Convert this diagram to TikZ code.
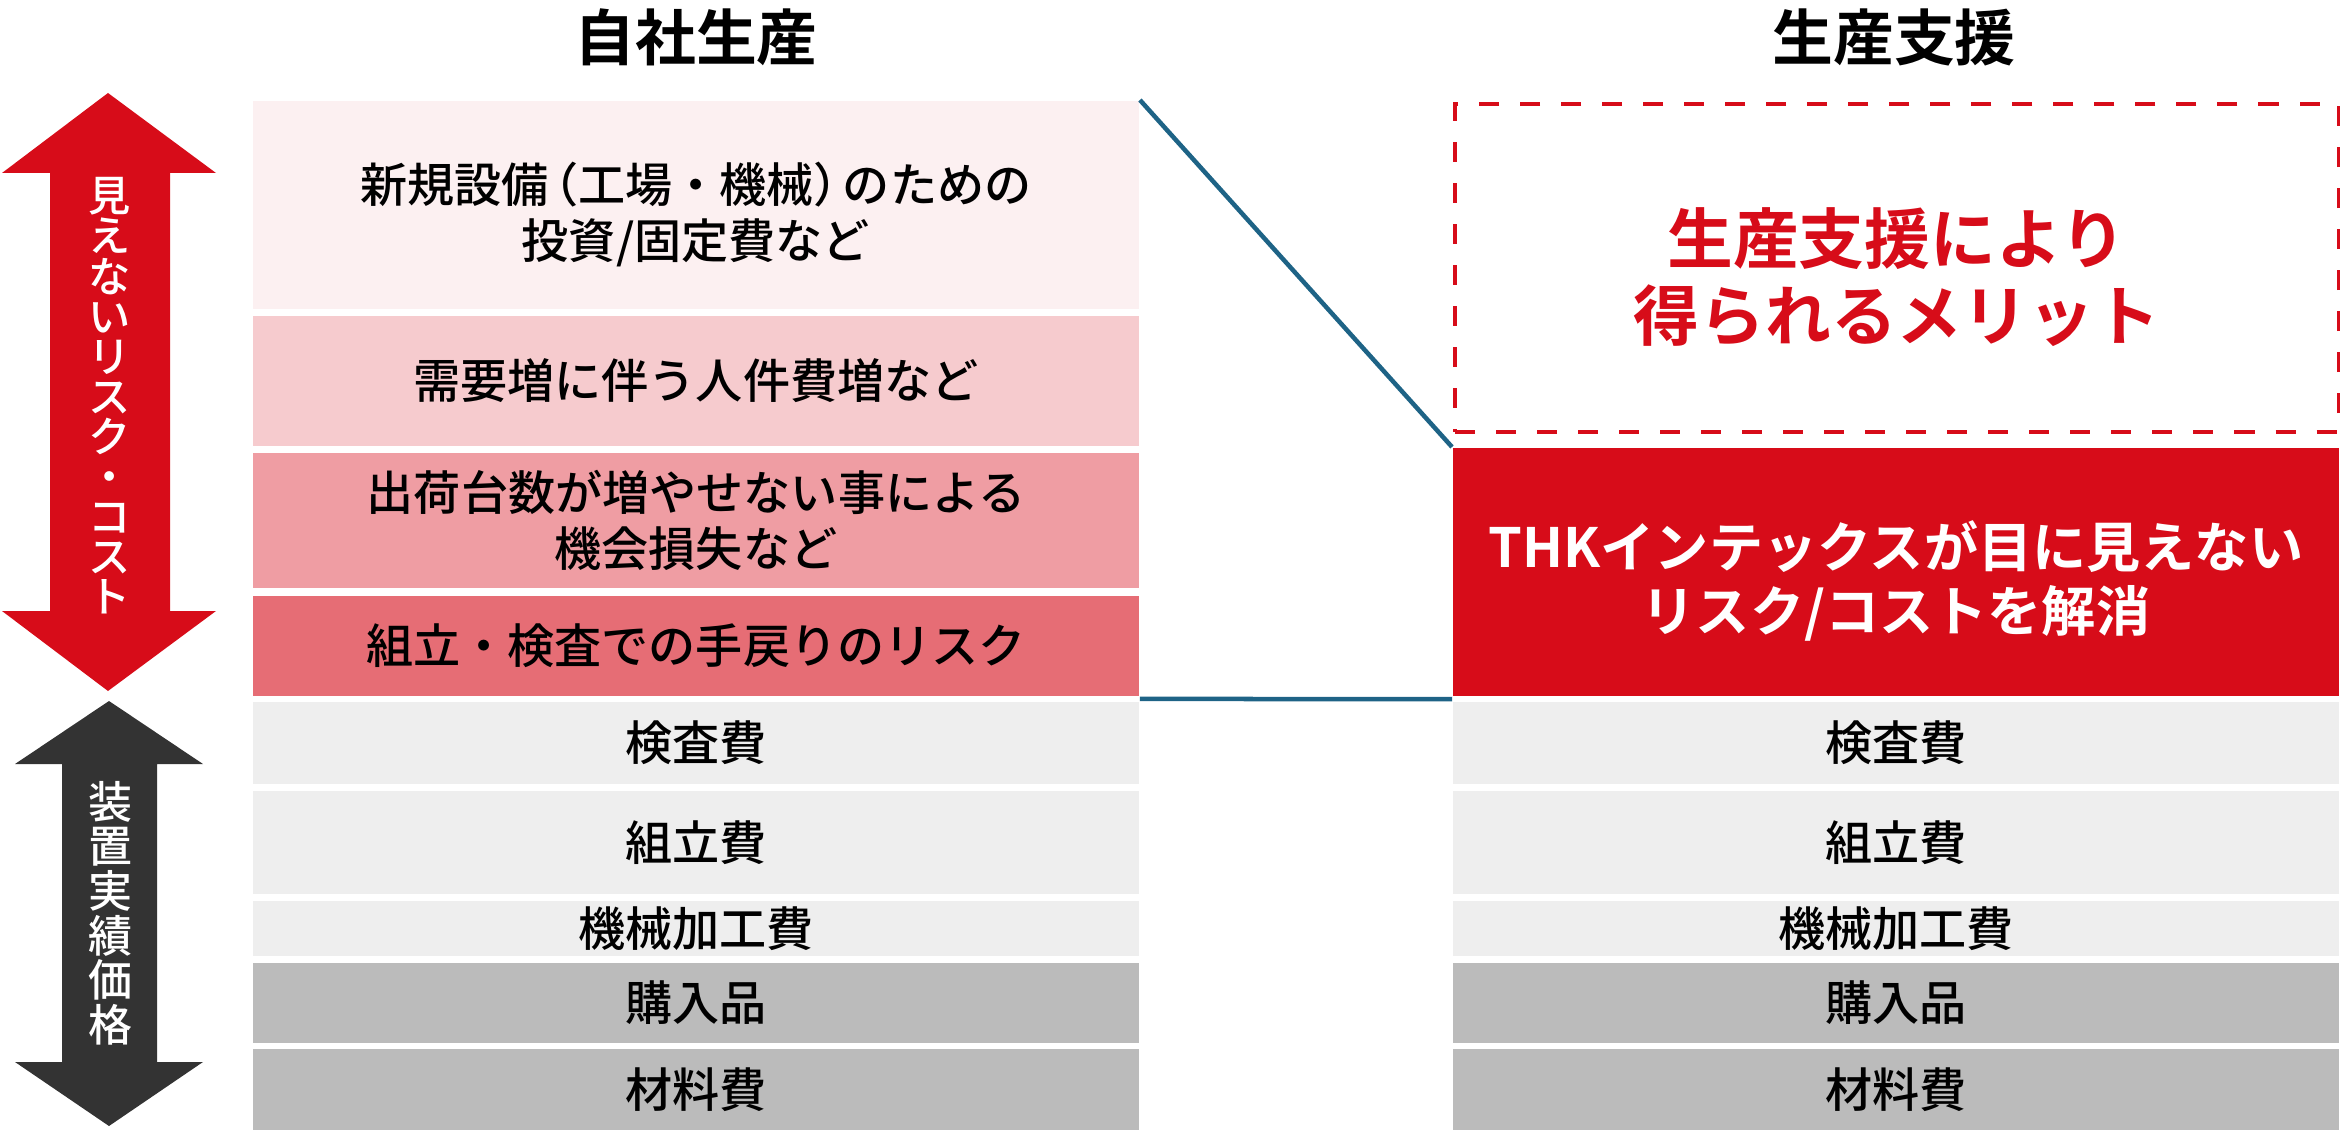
\documentclass[tikz,border=0pt]{standalone}
\usepackage{fontspec}
\IfFontExistsTF{Noto Sans CJK JP Medium}
	{\setmainfont{Noto Sans CJK JP Medium}[BoldFont={Noto Sans CJK JP Bold}]}
	{\setmainfont{Noto Sans CJK JP}}
\newcommand\halfw[1]{{\addfontfeature{RawFeature=+halt}#1}}
\definecolor{thkred}{HTML}{D70C19}
\definecolor{rowA}{HTML}{FCF0F1}
\definecolor{rowB}{HTML}{F6CBCE}
\definecolor{rowC}{HTML}{EF9DA3}
\definecolor{rowD}{HTML}{E66D75}
\definecolor{rowL}{HTML}{EEEEEE}
\definecolor{rowG}{HTML}{BBBBBB}
\definecolor{darkarrow}{HTML}{333333}
\definecolor{linkline}{HTML}{1E6386}
\lineskiplimit=-5pt
\tikzset{
	cell/.style={minimum width=8.86cm, inner sep=0pt, anchor=north west, align=center, font=\fontsize{13.4}{16}\selectfont},
	celltext/.style={inner sep=0pt, align=center, font=\fontsize{13.4}{16}\selectfont},
	head/.style={font=\bfseries\fontsize{17.3}{20}\selectfont},
	vlabel/.style={text=white, align=center, inner sep=0pt},
	link/.style={linkline, line width=0.045cm}
}
\begin{document}
\begin{tikzpicture}[x=0.01cm,y=-0.01cm]
	\useasboundingbox (0,0) rectangle (2340,1140);
	\node[head] (ownhead) at (696,37) {自社生産};
	\node[head] (suphead) at (1894,37) {生産支援};
	\fill[thkred] (108,93)--(216,173)--(170,173)--(170,611)--(216,611)--(108,691)--(2,611)--(50,611)--(50,173)--(2,173)--cycle;
	\fill[darkarrow] (109,701)--(203,764)--(157,764)--(157,1062)--(203,1062)--(109,1126)--(15,1062)--(62,1062)--(62,764)--(15,764)--cycle;
	\node[vlabel, font=\fontsize{12}{11.4}\selectfont] (risklabel) at (110,396) {見\\え\\な\\い\\リ\\ス\\ク\\・\\コ\\ス\\ト};
	\node[vlabel, font=\fontsize{12.5}{12.7}\selectfont] (pricelabel) at (110,913) {装\\置\\実\\績\\価\\格};
	\node[cell, fill=rowA, minimum height=2.08cm] (risk1) at (252,100) {};
	\node[celltext] (risk1txt) at ([yshift=-0.1cm]risk1.center) {新規設備\kern.12em\halfw{（}工場・機械\halfw{）}\kern.12em のための\\投資/固定費など};
	\node[cell, fill=rowB, minimum height=1.30cm] (risk2) at (252,315) {需要増に伴う人件費増など};
	\node[cell, fill=rowC, minimum height=1.35cm] (risk3) at (252,452) {出荷台数が増やせない事による\\機会損失など};
	\node[cell, fill=rowD, minimum height=1.00cm] (risk4) at (252,595) {組立・検査での手戻りのリスク};
	\foreach \y/\h/\c/\t [count=\i] in {701/0.82/rowL/検査費, 790/1.03/rowL/組立費, 900/0.55/rowL/機械加工費, 962/0.80/rowG/購入品, 1048/0.81/rowG/材料費}{
		\node[cell, fill=\c, minimum height=\h cm] (own\i) at (252,\y) {\t};
		\node[cell, fill=\c, minimum height=\h cm] (sup\i) at (1452,\y) {\t};
	}
	\node[draw=thkred, line width=0.04cm, dash pattern=on 0.2cm off 0.21cm, minimum width=8.83cm, minimum height=3.28cm, anchor=north west] (merit) at (1453,102) {};
	\node[align=center, text=thkred, font=\bfseries\fontsize{18.7}{22}\selectfont] (merittxt) at ([yshift=-0.09cm]merit.center) {生産支援により\\得られるメリット};
	\node[fill=thkred, minimum width=8.86cm, minimum height=2.48cm, inner sep=0pt, anchor=north west] (solve) at (1452,447) {};
	\node[align=center, text=white, font=\bfseries\fontsize{15.4}{18.3}\selectfont] (solvetxt) at ([yshift=-0.09cm]solve.center) {THKインテックスが目に見えない\\リスク/コストを解消};
	\draw[link] (risk1.north east)--(solve.north west);
	\draw[link] ([yshift=-0.025cm]risk4.south east)--([yshift=-0.025cm]solve.south west);
\end{tikzpicture}
\end{document}
